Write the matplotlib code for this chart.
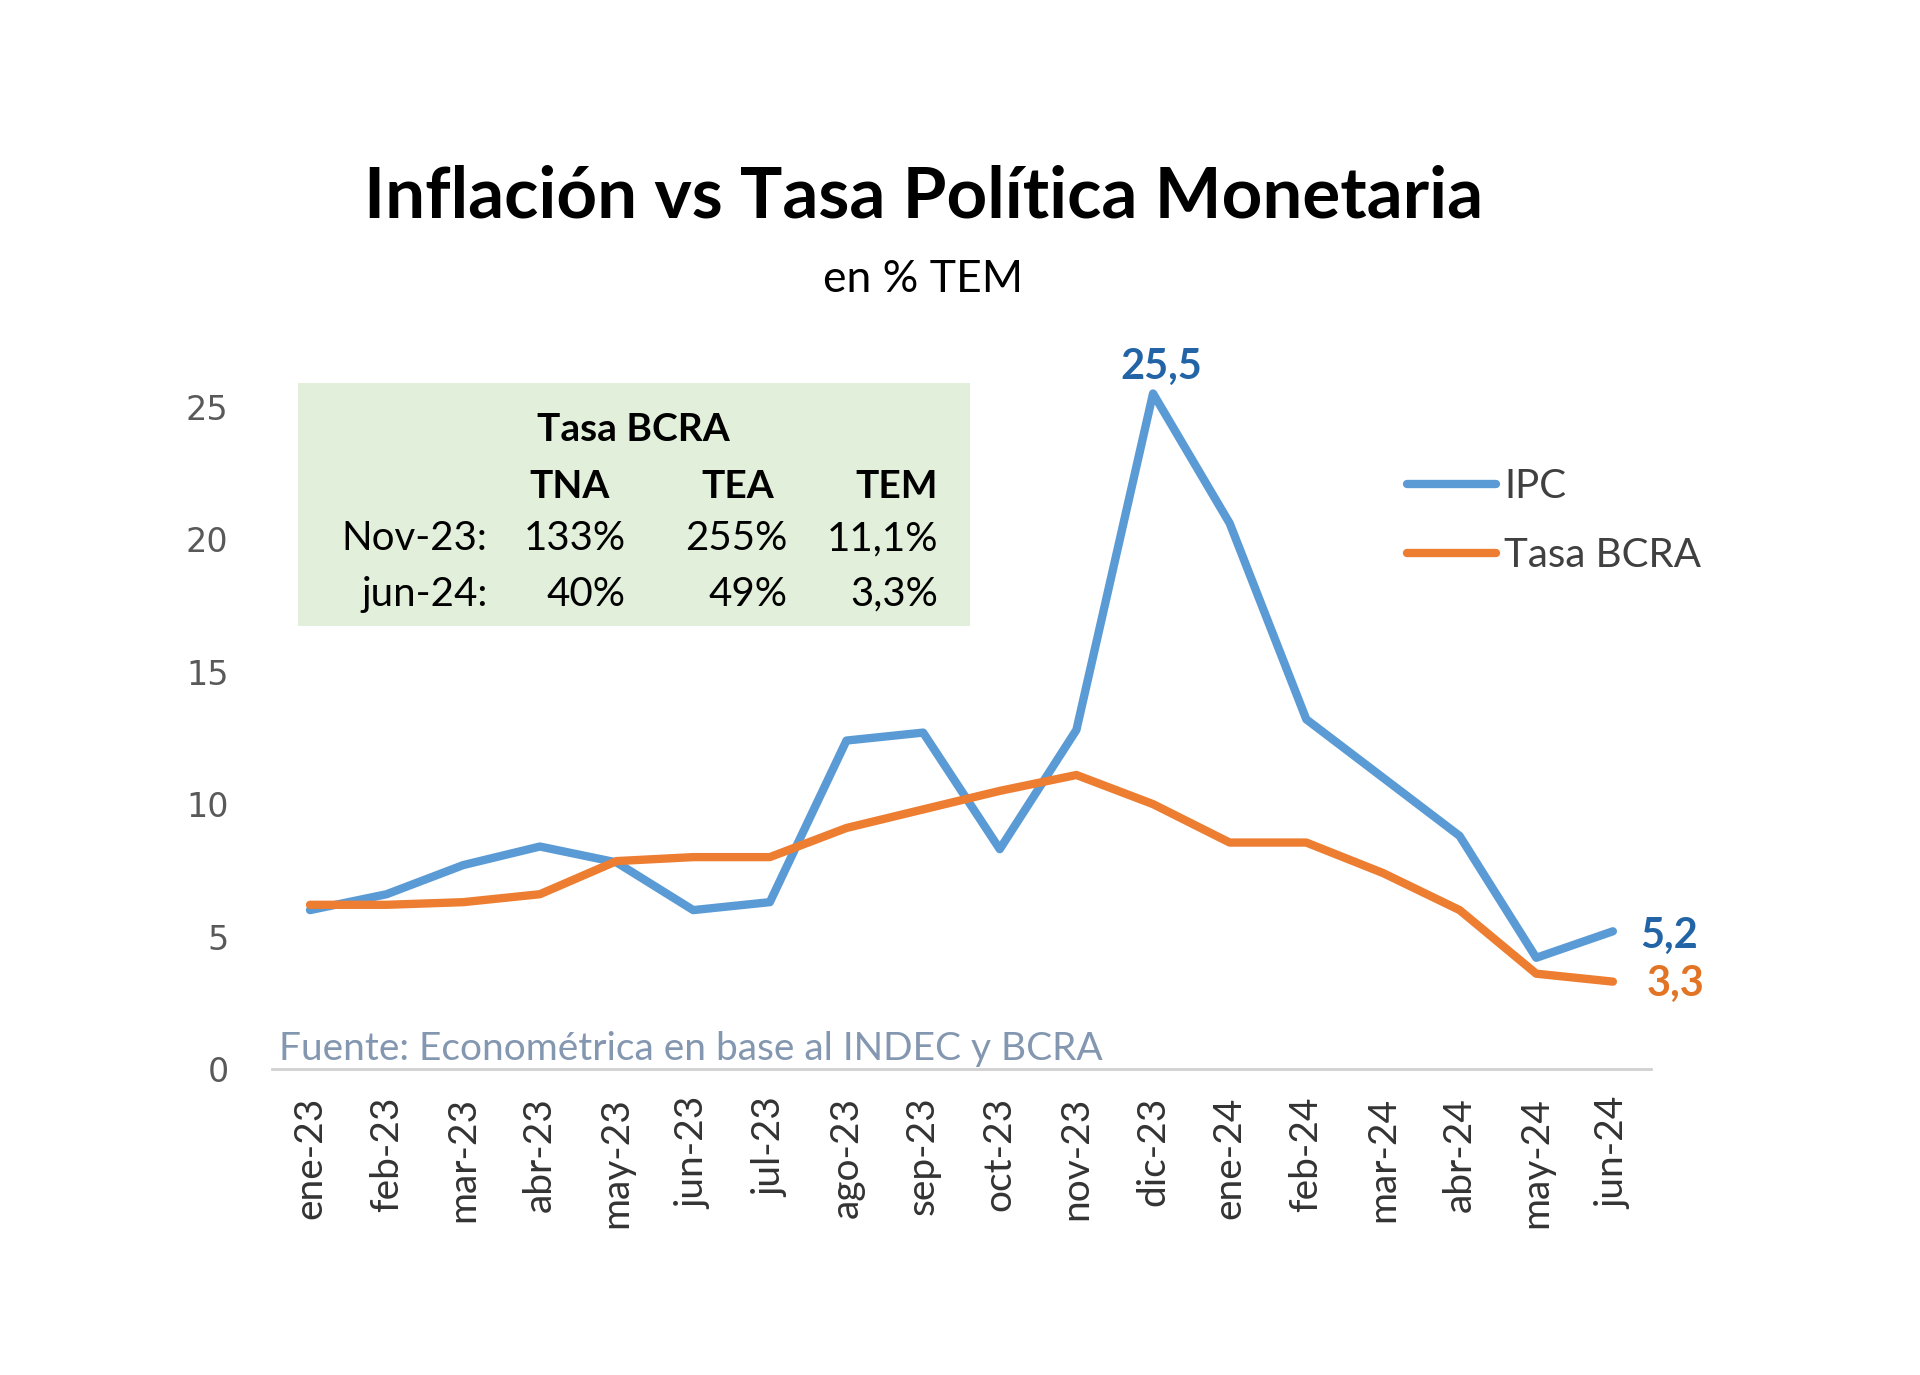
import numpy as np
import matplotlib
matplotlib.use('Agg')
import matplotlib.pyplot as plt
from matplotlib.patches import Rectangle

plt.rcParams['font.family'] = ['Lato', 'DejaVu Sans']

months = ['ene-23', 'feb-23', 'mar-23', 'abr-23', 'may-23', 'jun-23', 'jul-23',
          'ago-23', 'sep-23', 'oct-23', 'nov-23', 'dic-23', 'ene-24', 'feb-24',
          'mar-24', 'abr-24', 'may-24', 'jun-24']
ipc = [6.0, 6.6, 7.7, 8.4, 7.8, 6.0, 6.3, 12.4, 12.7, 8.3, 12.8, 25.5,
       20.6, 13.2, 11.0, 8.8, 4.2, 5.2]
tasa = [6.2, 6.2, 6.3, 6.6, 7.85, 8.0, 8.0, 9.1, 9.8, 10.5, 11.1, 10.0,
        8.55, 8.55, 7.4, 6.0, 3.6, 3.3]

# inset table
tbl_cols = ['TNA', 'TEA', 'TEM']
tbl_rows = ['Nov-23:', 'jun-24:']
tbl_vals = [['133%', '255%', '11,1%'],
            ['40%', '49%', '3,3%']]

blue = '#5b9bd5'
orange = '#ed7d31'
blue_dark = '#2264a6'
orange_dark = '#e27426'

fig = plt.figure(figsize=(19.2, 13.75), dpi=100)
ax = fig.add_axes([0.1415, 0.2225, 0.7185, 0.5395])

x = np.arange(len(months))
ax.plot(x, ipc, color=blue, lw=6, solid_capstyle='round', label='IPC')
ax.plot(x, tasa, color=orange, lw=6, solid_capstyle='round', label='Tasa BCRA')

ax.set_xlim(-0.5, len(months) - 0.5)
ax.set_ylim(0, 28)
ax.set_yticks([0, 5, 10, 15, 20, 25])
ax.set_xticks(x)
ax.set_xticklabels(months, rotation=90, fontsize=28, color='#333333')
ax.tick_params(axis='both', length=0)
ax.tick_params(axis='y', pad=31, labelsize=24, labelcolor='#595959')
ax.tick_params(axis='x', pad=20)
for lbl in ax.get_yticklabels():
    lbl.set_family('DejaVu Sans')
for s in ['top', 'right', 'left']:
    ax.spines[s].set_visible(False)
ax.spines['bottom'].set_color('#d0d0d0')
ax.spines['bottom'].set_linewidth(2)

# end / peak labels
pk = int(np.argmax(ipc))
ax.annotate('25,5', (pk, ipc[pk]), xytext=(6, 19), textcoords='offset points',
            ha='center', va='center', color=blue_dark, fontsize=30, fontweight='bold')
ax.annotate('5,2', (x[-1], ipc[-1]), xytext=(20, -3), textcoords='offset points',
            ha='left', va='center', color=blue_dark, fontsize=30, fontweight='bold')
ax.annotate('3,3', (x[-1], tasa[-1]), xytext=(24, -2), textcoords='offset points',
            ha='left', va='center', color=orange_dark, fontsize=30, fontweight='bold')

leg = ax.legend(loc='center left', bbox_to_anchor=(0.733, 0.621), bbox_transform=fig.transFigure,
                frameon=False, fontsize=29, handlelength=2.2, handletextpad=0.2,
                labelspacing=0.8, borderpad=0, borderaxespad=0, labelcolor='#404040')

ax.text(0.005, 0.012, 'Fuente: Econométrica en base al INDEC y BCRA', transform=ax.transAxes,
        ha='left', va='baseline', fontsize=28, color='#8497b0')

# titles
fig.text(0.481, 0.857, 'Inflación vs Tasa Política Monetaria', ha='center', va='center',
         fontsize=51, fontweight='bold', color='black')
fig.text(0.481, 0.797, 'en % TEM', ha='center', va='center', fontsize=32, color='black')

# green box with table
fig.patches.append(Rectangle((0.155, 0.545), 0.350, 0.1765, transform=fig.transFigure,
                             facecolor='#e2efda', edgecolor='none', zorder=0))
fig.text(0.330, 0.6875, 'Tasa BCRA', ha='center', va='center', fontsize=28,
         fontweight='bold', color='black')
head_right = [0.3176, 0.403, 0.4885]
col_right = [0.326, 0.410, 0.4885]
row_y = [0.608, 0.568]
header_y = 0.6465
for cr, name in zip(head_right, tbl_cols):
    fig.text(cr, header_y, name, ha='right', va='center', fontsize=28,
             fontweight='bold', color='black')
for ry, rname, vals in zip(row_y, tbl_rows, tbl_vals):
    fig.text(0.254, ry, rname, ha='right', va='center', fontsize=29, color='black')
    for cr, v in zip(col_right, vals):
        fig.text(cr, ry, v, ha='right', va='center', fontsize=29, color='black')

fig.savefig('out.png', dpi=100)
